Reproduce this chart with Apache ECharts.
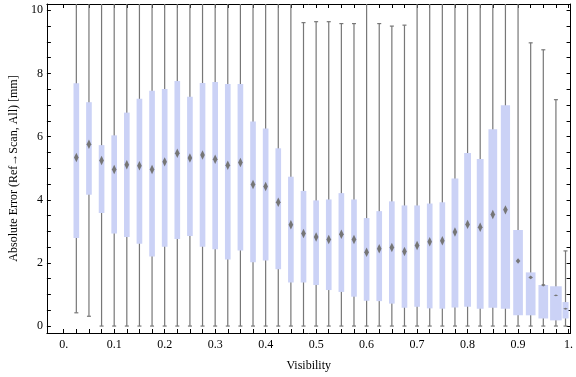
<!DOCTYPE html>
<html>
<head>
<meta charset="utf-8">
<script src="https://cdn.jsdelivr.net/npm/echarts@6/dist/echarts.min.js"></script>
<style>
  html, body { margin: 0; padding: 0; background: #fff; }
  #chart { width: 576px; height: 377px; }
</style>
</head>
<body>
<div id="chart"></div>
<script>
// box positions along the visibility axis
var positions = [0.025, 0.05, 0.075, 0.1, 0.125, 0.15, 0.175, 0.2, 0.225, 0.25,
    0.275, 0.3, 0.325, 0.35, 0.375, 0.4, 0.425, 0.45, 0.475, 0.5,
    0.525, 0.55, 0.575, 0.6, 0.625, 0.65, 0.675, 0.7, 0.725, 0.75,
    0.775, 0.8, 0.825, 0.85, 0.875, 0.9, 0.925, 0.95, 0.975, 0.994];

// whisker ends (values above 10.2 run out of the frame)
var whiskerLow = [0.42, 0.31, 0, 0, 0, 0, 0, 0, 0, 0,
    0, 0, 0, 0, 0, 0, 0, 0, 0, 0,
    0, 0, 0, 0, 0, 0, 0, 0, 0, 0,
    0, 0, 0, 0, 0, 0, 0, 0, 0, 0];
var whiskerHigh = [10.5, 10.5, 10.5, 10.5, 10.5, 10.5, 10.5, 10.5, 10.5, 10.5,
    10.5, 10.5, 10.5, 10.5, 10.5, 10.5, 10.5, 10.5, 9.61, 9.64,
    9.64, 9.58, 9.58, 10.5, 9.58, 9.50, 9.53, 10.5, 10.5, 10.5,
    10.5, 10.5, 10.5, 10.5, 10.5, 10.5, 8.97, 8.75, 7.17, 2.38];

// quartiles and median
var q1 = [2.79, 4.16, 3.58, 2.93, 2.82, 2.61, 2.20, 2.51, 2.76, 2.85,
    2.51, 2.43, 2.11, 2.39, 2.02, 2.08, 1.80, 1.38, 1.38, 1.30,
    1.14, 1.08, 0.93, 0.80, 0.79, 0.71, 0.58, 0.61, 0.56, 0.55,
    0.59, 0.61, 0.55, 0.58, 0.55, 0.34, 0.34, 0.24, 0.18, 0.24];
var median = [5.34, 5.76, 5.24, 4.96, 5.11, 5.08, 4.96, 5.20, 5.47, 5.32,
    5.42, 5.28, 5.09, 5.18, 4.48, 4.42, 3.92, 3.21, 2.93, 2.82,
    2.74, 2.91, 2.74, 2.34, 2.45, 2.49, 2.36, 2.55, 2.67, 2.70,
    2.98, 3.22, 3.13, 3.53, 3.68, 2.06, 1.54, 1.30, 0.97, 0.55];
var q3 = [7.69, 7.09, 5.73, 6.04, 6.76, 7.20, 7.45, 7.51, 7.76, 7.26,
    7.70, 7.73, 7.67, 7.67, 6.48, 6.26, 5.63, 4.73, 4.28, 3.98,
    4.01, 4.21, 4.01, 3.42, 3.64, 3.95, 3.82, 3.82, 3.88, 3.92,
    4.67, 5.48, 5.29, 6.23, 6.99, 3.04, 1.70, 1.30, 1.26, 0.76];

// box width (visibility units) and median notch half-height (mm)
var boxWidth = [0.0112, 0.0112, 0.0112, 0.0112, 0.0112, 0.0112, 0.0112, 0.0112, 0.0112, 0.0112,
    0.0112, 0.0112, 0.0112, 0.0112, 0.0112, 0.0112, 0.0112, 0.0112, 0.0112, 0.0112,
    0.0112, 0.0112, 0.0112, 0.0112, 0.0112, 0.0112, 0.0112, 0.0112, 0.0112, 0.0112,
    0.0135, 0.0135, 0.0135, 0.0173, 0.0183, 0.0192, 0.0192, 0.0192, 0.0231, 0.0121];
var medianNotch = [0.15, 0.15, 0.15, 0.15, 0.15, 0.15, 0.15, 0.15, 0.15, 0.15,
    0.15, 0.15, 0.15, 0.15, 0.15, 0.15, 0.15, 0.15, 0.15, 0.15,
    0.15, 0.15, 0.15, 0.15, 0.15, 0.15, 0.15, 0.15, 0.15, 0.15,
    0.15, 0.15, 0.15, 0.15, 0.15, 0.09, 0.06, 0.05, 0.03, 0.03];

// ticks and labels
var xTickValues = [0, 0.025, 0.05, 0.075, 0.1, 0.125, 0.15, 0.175, 0.2, 0.225,
    0.25, 0.275, 0.3, 0.325, 0.35, 0.375, 0.4, 0.425, 0.45, 0.475,
    0.5, 0.525, 0.55, 0.575, 0.6, 0.625, 0.65, 0.675, 0.7, 0.725,
    0.75, 0.775, 0.8, 0.825, 0.85, 0.875, 0.9, 0.925, 0.95, 0.975, 1];
var xLabelValues = [0, 0.1, 0.2, 0.3, 0.4, 0.5, 0.6, 0.7, 0.8, 0.9, 1];
var xLabelText = ['0.', '0.1', '0.2', '0.3', '0.4', '0.5', '0.6', '0.7', '0.8', '0.9', '1.'];
var yTickValues = [0, 0.5, 1, 1.5, 2, 2.5, 3, 3.5, 4, 4.5, 5, 5.5, 6, 6.5, 7, 7.5, 8, 8.5, 9, 9.5, 10];
var yLabelValues = [0, 2, 4, 6, 8, 10];

var font = "'Liberation Serif', 'DejaVu Serif', serif";

function renderBox(params, api) {
    var x = api.value(0);
    var lo = api.coord([x, api.value(1)]);
    var b = api.coord([x, api.value(2)]);
    var m = api.coord([x, api.value(3)]);
    var t = api.coord([x, api.value(4)]);
    var hi = api.coord([x, api.value(5)]);
    var w = api.size([api.value(6), 0])[0];
    var h = api.size([0, api.value(7)])[1];
    var cap = 2;
    var gray = '#777777';

    return {
        type: 'group',
        children: [
            { type: 'line', shape: { x1: lo[0], y1: lo[1], x2: hi[0], y2: hi[1] },
              style: { stroke: gray, lineWidth: 1.2 } },
            { type: 'line', shape: { x1: lo[0] - cap, y1: lo[1], x2: lo[0] + cap, y2: lo[1] },
              style: { stroke: gray, lineWidth: 1.2 } },
            { type: 'line', shape: { x1: hi[0] - cap, y1: hi[1], x2: hi[0] + cap, y2: hi[1] },
              style: { stroke: gray, lineWidth: 1.2 } },
            { type: 'rect', shape: { x: t[0] - w / 2, y: t[1], width: w, height: b[1] - t[1] },
              style: { fill: '#CBD2F6' } },
            { type: 'polygon',
              shape: { points: [[m[0], m[1] - h], [m[0] + 2.3, m[1]], [m[0], m[1] + h], [m[0] - 2.3, m[1]]] },
              style: { fill: '#767676' } }
        ]
    };
}

var chart = echarts.init(document.getElementById('chart'));

var data = positions.map(function (p, i) {
    return [p, whiskerLow[i], q1[i], median[i], q3[i], whiskerHigh[i], boxWidth[i], medianNotch[i]];
});

var frameLine = { show: true, onZero: false, lineStyle: { color: '#000', width: 1 } };

var option = {
    animation: false,
    grid: { left: 36, right: 1, top: 4, bottom: 40 },
    xAxis: [{
        type: 'value',
        min: -0.0333,
        max: 1.004,
        position: 'bottom',
        name: 'Visibility',
        nameLocation: 'middle',
        nameGap: 27,
        nameTextStyle: { fontFamily: font, fontSize: 12, color: '#000' },
        axisLine: frameLine,
        axisTick: { show: true, inside: true, length: 4, customValues: xTickValues,
                    lineStyle: { color: '#000' } },
        axisLabel: {
            customValues: xLabelValues,
            margin: 6,
            fontFamily: font,
            fontSize: 12,
            color: '#000',
            formatter: function (v) {
                var i = xLabelValues.indexOf(Math.round(v * 10) / 10);
                return i >= 0 ? xLabelText[i] : '';
            }
        },
        splitLine: { show: false }
    }, {
        type: 'value',
        min: -0.0333,
        max: 1.004,
        position: 'top',
        axisLine: frameLine,
        axisTick: { show: true, inside: true, length: 4, customValues: xTickValues,
                    lineStyle: { color: '#000' } },
        axisLabel: { show: false },
        splitLine: { show: false }
    }],
    yAxis: [{
        type: 'value',
        min: -0.22,
        max: 10.2,
        position: 'left',
        name: 'Absolute Error (Ref\u2192Scan, All) [mm]',
        nameLocation: 'middle',
        nameGap: 24,
        nameTextStyle: { fontFamily: font, fontSize: 12, color: '#000' },
        axisLine: frameLine,
        axisTick: { show: true, inside: true, length: 4, customValues: yTickValues,
                    lineStyle: { color: '#000' } },
        axisLabel: {
            customValues: yLabelValues,
            margin: 4,
            fontFamily: font,
            fontSize: 12,
            color: '#000'
        },
        splitLine: { show: false }
    }, {
        type: 'value',
        min: -0.22,
        max: 10.2,
        position: 'right',
        axisLine: frameLine,
        axisTick: { show: true, inside: true, length: 4, customValues: yTickValues,
                    lineStyle: { color: '#000' } },
        axisLabel: { show: false },
        splitLine: { show: false }
    }],
    series: [{
        type: 'custom',
        name: 'Absolute Error',
        renderItem: renderBox,
        clip: true,
        encode: { x: 0, y: [1, 2, 3, 4, 5] },
        data: data
    }]
};

chart.setOption(option);
</script>
</body>
</html>
